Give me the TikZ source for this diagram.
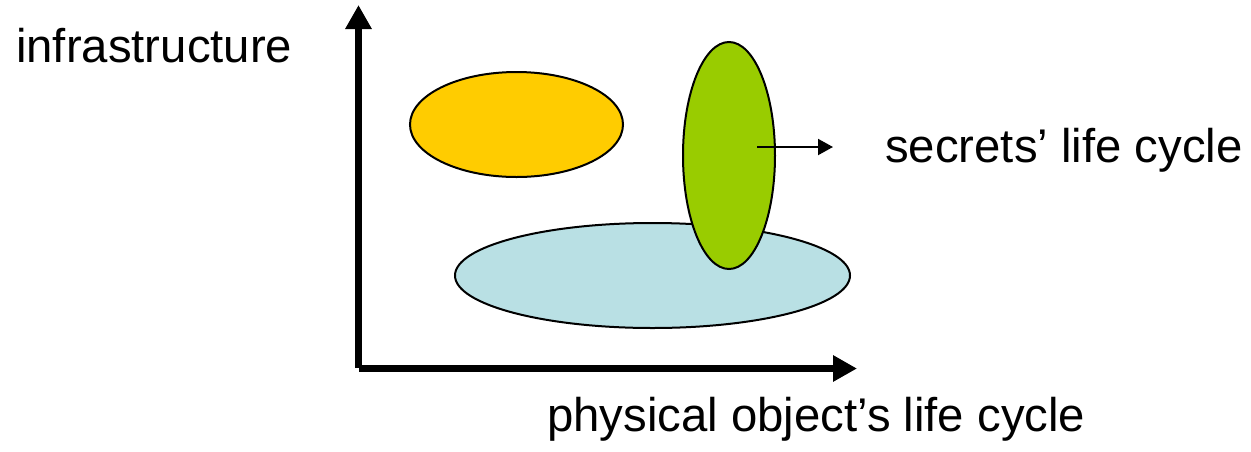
\documentclass[tikz,border=0pt]{standalone}
\usepackage{fontspec}
\setmainfont{Liberation Sans}
\usetikzlibrary{shapes.geometric,arrows.meta}
\definecolor{orangefill}{HTML}{FFCC00}
\definecolor{greenfill}{HTML}{99CC00}
\definecolor{bluefill}{HTML}{B9E0E4}
\tikzset{
  blob/.style={ellipse,draw=black,line width=2pt,inner sep=0pt},
  axisline/.style={line width=7.5pt,-{Triangle[length=24pt,width=25pt]}},
  pointer/.style={line width=2pt,-{Triangle[length=15pt,width=16pt]}},
  lbl/.style={inner sep=0pt,anchor=base west,font=\fontsize{47.3}{56}\selectfont}
}
\begin{document}
\begin{tikzpicture}[x=1pt,y=-1pt]
\useasboundingbox (0,0) rectangle (1251,451);
% axes
\coordinate (ybot) at (358.5,368);
\coordinate (ytop) at (358.5,5);
\coordinate (xleft) at (359,368.5);
\coordinate (xright) at (857,368.5);
\draw[axisline] (ybot) -- (ytop);
\draw[axisline] (xleft) -- (xright);
% ellipses
\node[blob,fill=orangefill,minimum width=213pt,minimum height=105pt] (infra) at (516.5,124.5) {};
\node[blob,fill=bluefill,minimum width=395pt,minimum height=105pt] (phys) at (652.5,275.5) {};
\node[blob,fill=greenfill,minimum width=92pt,minimum height=227pt] (secr) at (729,155.5) {};
% pointer arrow
\coordinate (pstart) at (757,147);
\coordinate (pend) at (833,147);
\draw[pointer] (pstart) -- (pend);
% labels
\node[lbl] (tinfra) at (16,62) {infrastructure};
\node[lbl] (tsecr) at (885,162) {secrets’ life cycle};
\node[lbl] (tphys) at (547,431) {physical object’s life cycle};
\end{tikzpicture}
\end{document}
